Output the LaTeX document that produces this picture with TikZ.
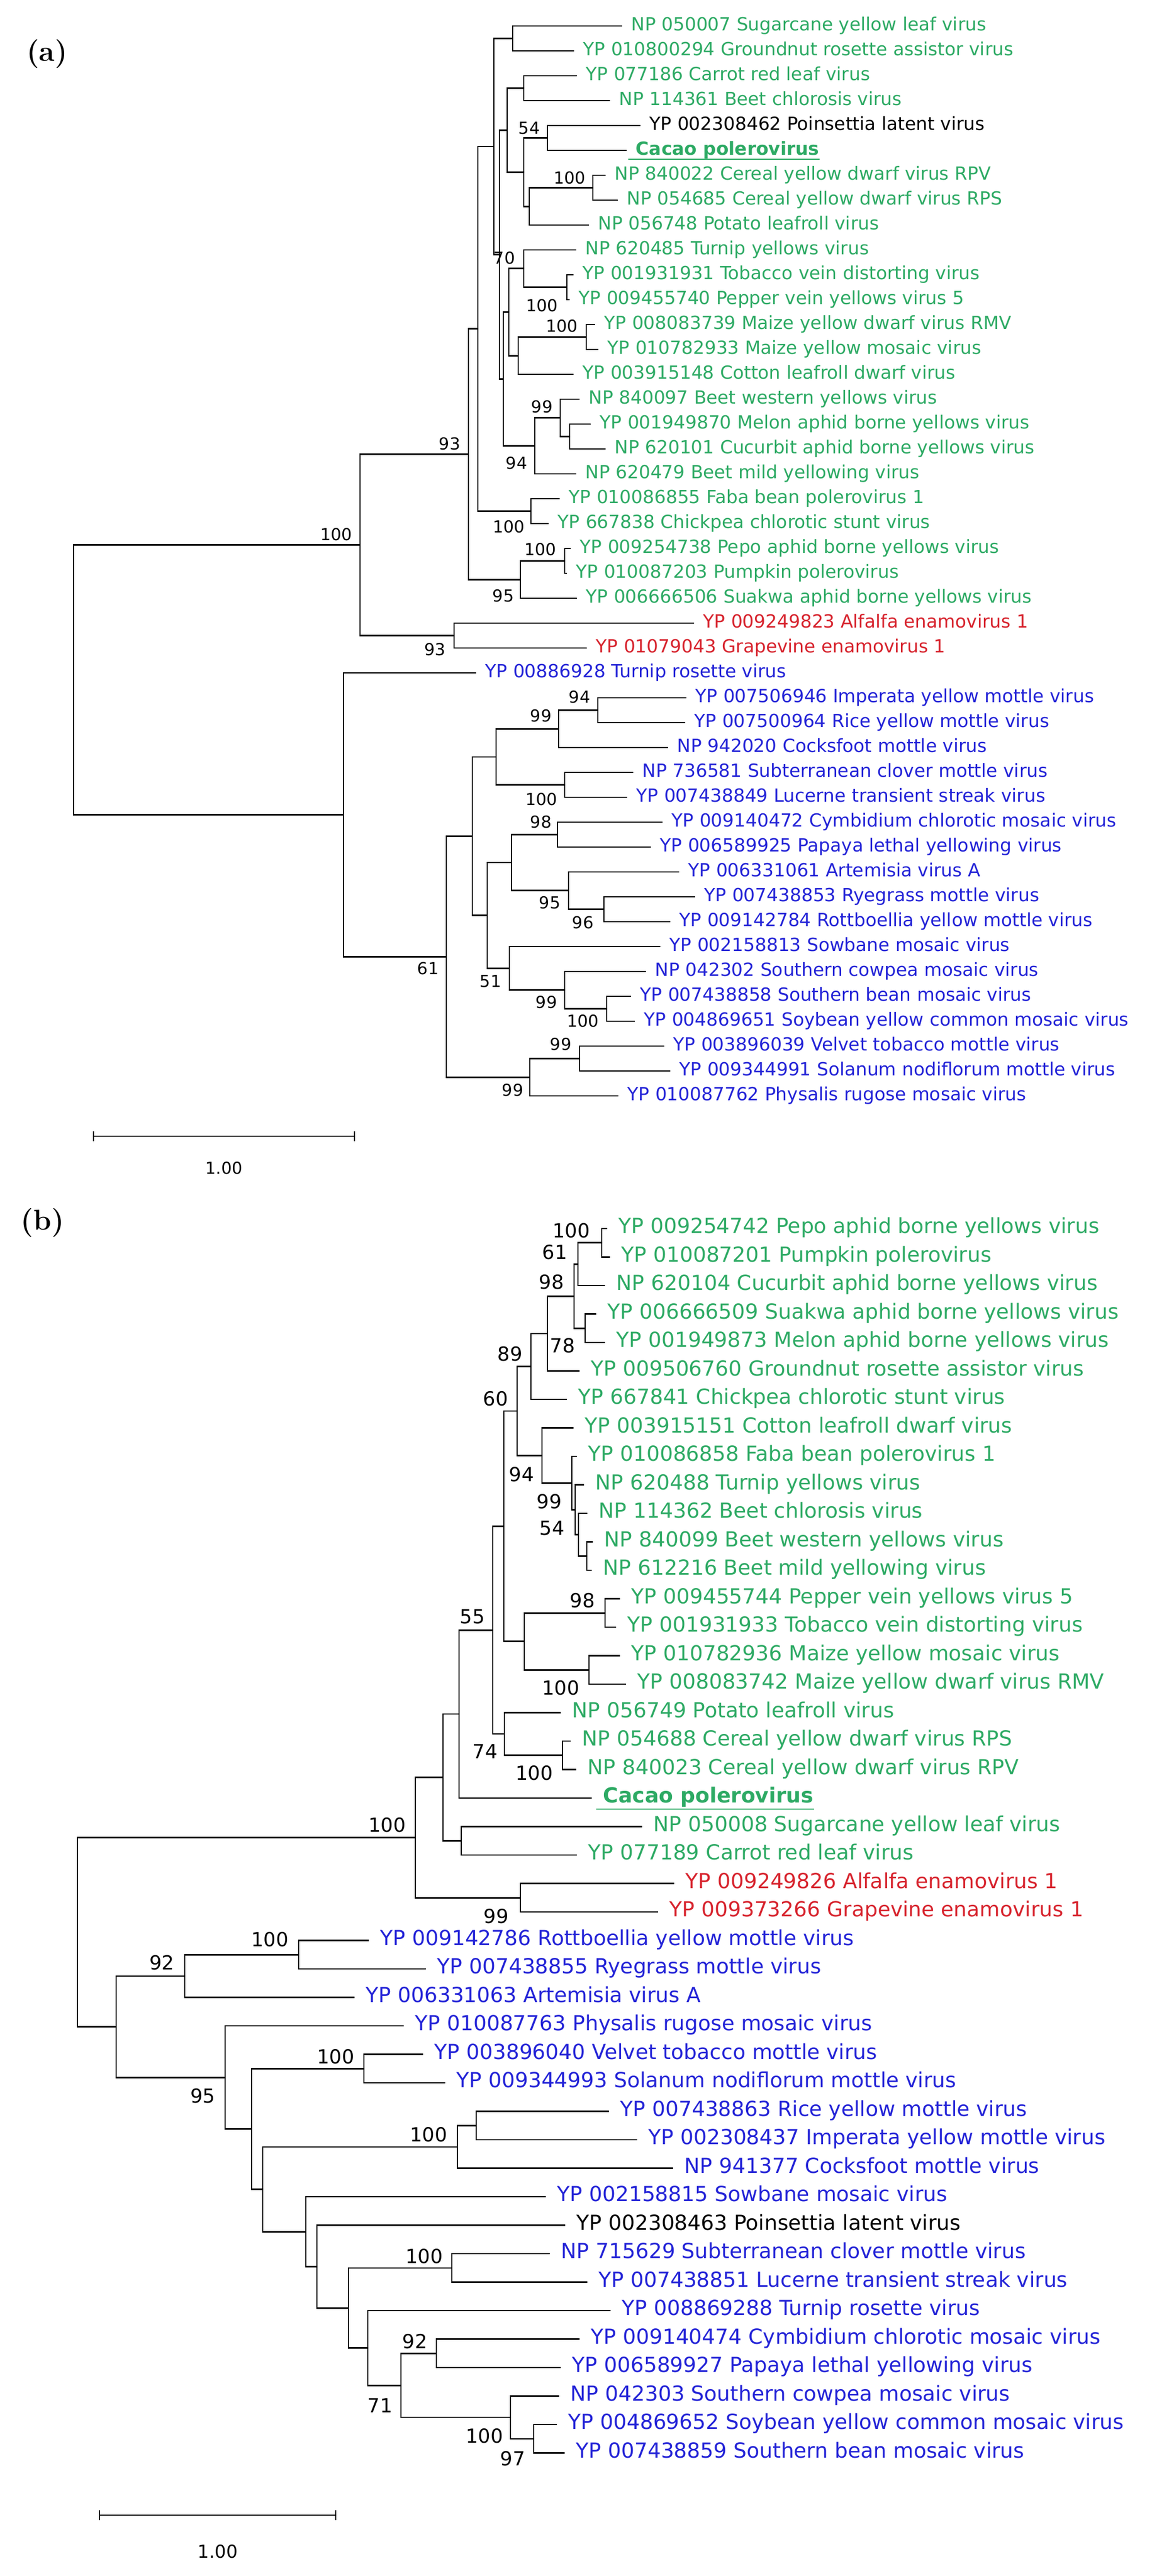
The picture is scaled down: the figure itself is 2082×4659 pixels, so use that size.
\documentclass[tikz,border=0pt]{standalone}
\usepackage{fontspec}
\newfontfamily\dvs{DejaVu Sans}
\definecolor{tgreen}{RGB}{45,170,100}
\definecolor{tblue}{RGB}{35,35,215}
\definecolor{tred}{RGB}{215,35,45}
\tikzset{
  br/.style={line width=0.65pt, black},
  lfa/.style={anchor=mid west, inner sep=0pt, font=\dvs\fontsize{8.2}{10}\selectfont},
  lfb/.style={anchor=mid west, inner sep=0pt, font=\dvs\fontsize{9.4}{11}\selectfont},
  bsa/.style={inner sep=0pt, font=\dvs\fontsize{7.5}{9}\selectfont},
  bsb/.style={inner sep=0pt, font=\dvs\fontsize{8.8}{10}\selectfont},
  ulin/.style={line width=0.6pt},
  panlab/.style={inner sep=0pt, font=\fontsize{13}{15}\selectfont},
}
\newcommand{\leafa}[5]{\coordinate (#1) at (#2,#3);\node[lfa,text=#4] (#1t) at (#2+16,#3) {#5};}
\newcommand{\leafb}[5]{\coordinate (#1) at (#2,#3);\node[lfb,text=#4] (#1t) at (#2+20,#3) {#5};}
\begin{document}
\begin{tikzpicture}[x=0.25pt,y=-0.25pt]
\fill[white] (0,0) rectangle (2082,4659);
\useasboundingbox (0,0) rectangle (2082,4659);

% ================= panel (a) =================
\node[panlab] (pa) at (85,98) {\textbf{(a)}};

\leafa{l0}{1125}{47}{tgreen}{NP 050007 Sugarcane yellow leaf virus}
\leafa{l1}{1038}{92}{tgreen}{YP 010800294 Groundnut rosette assistor virus}
\leafa{l2}{1043}{137}{tgreen}{YP 077186 Carrot red leaf virus}
\leafa{l3}{1103}{182}{tgreen}{NP 114361 Beet chlorosis virus}
\leafa{l4}{1158}{227}{black}{YP 002308462 Poinsettia latent virus}
\leafa{l5}{1133}{272}{tgreen}{\bfseries Cacao polerovirus}
\leafa{l6}{1095}{317}{tgreen}{NP 840022 Cereal yellow dwarf virus RPV}
\leafa{l7}{1117}{362}{tgreen}{NP 054685 Cereal yellow dwarf virus RPS}
\leafa{l8}{1065}{407}{tgreen}{NP 056748 Potato leafroll virus}
\leafa{l9}{1042}{452}{tgreen}{NP 620485 Turnip yellows virus}
\leafa{l10}{1037}{497}{tgreen}{YP 001931931 Tobacco vein distorting virus}
\leafa{l11}{1030}{542}{tgreen}{YP 009455740 Pepper vein yellows virus 5}
\leafa{l12}{1076}{587}{tgreen}{YP 008083739 Maize yellow dwarf virus RMV}
\leafa{l13}{1082}{632}{tgreen}{YP 010782933 Maize yellow mosaic virus}
\leafa{l14}{1037}{677}{tgreen}{YP 003915148 Cotton leafroll dwarf virus}
\leafa{l15}{1048}{722}{tgreen}{NP 840097 Beet western yellows virus}
\leafa{l16}{1068}{767}{tgreen}{YP 001949870 Melon aphid borne yellows virus}
\leafa{l17}{1095}{812}{tgreen}{NP 620101 Cucurbit aphid borne yellows virus}
\leafa{l18}{1042}{857}{tgreen}{NP 620479 Beet mild yellowing virus}
\leafa{l19}{1012}{902}{tgreen}{YP 010086855 Faba bean polerovirus 1}
\leafa{l20}{992}{947}{tgreen}{YP 667838 Chickpea chlorotic stunt virus}
\leafa{l21}{1032}{992}{tgreen}{YP 009254738 Pepo aphid borne yellows virus}
\leafa{l22}{1025}{1037}{tgreen}{YP 010087203 Pumpkin polerovirus}
\leafa{l23}{1043}{1082}{tgreen}{YP 006666506 Suakwa aphid borne yellows virus}
\leafa{l24}{1255}{1127}{tred}{YP 009249823 Alfalfa enamovirus 1}
\leafa{l25}{1061}{1172}{tred}{YP 01079043 Grapevine enamovirus 1}
\leafa{l26}{861}{1217}{tblue}{YP 00886928 Turnip rosette virus}
\leafa{l27}{1241}{1262}{tblue}{YP 007506946 Imperata yellow mottle virus}
\leafa{l28}{1239}{1307}{tblue}{YP 007500964 Rice yellow mottle virus}
\leafa{l29}{1208}{1352}{tblue}{NP 942020 Cocksfoot mottle virus}
\leafa{l30}{1145}{1397}{tblue}{NP 736581 Subterranean clover mottle virus}
\leafa{l31}{1134}{1442}{tblue}{YP 007438849 Lucerne transient streak virus}
\leafa{l32}{1198}{1487}{tblue}{YP 009140472 Cymbidium chlorotic mosaic virus}
\leafa{l33}{1177}{1532}{tblue}{YP 006589925 Papaya lethal yellowing virus}
\leafa{l34}{1228}{1577}{tblue}{YP 006331061 Artemisia virus A}
\leafa{l35}{1257}{1622}{tblue}{YP 007438853 Ryegrass mottle virus}
\leafa{l36}{1212}{1667}{tblue}{YP 009142784 Rottboellia yellow mottle virus}
\leafa{l37}{1194}{1712}{tblue}{YP 002158813 Sowbane mosaic virus}
\leafa{l38}{1168}{1757}{tblue}{NP 042302 Southern cowpea mosaic virus}
\leafa{l39}{1141}{1802}{tblue}{YP 007438858 Southern bean mosaic virus}
\leafa{l40}{1148}{1847}{tblue}{YP 004869651 Soybean yellow common mosaic virus}
\leafa{l41}{1201}{1892}{tblue}{YP 003896039 Velvet tobacco mottle virus}
\leafa{l42}{1212}{1937}{tblue}{YP 009344991 Solanum nodiflorum mottle virus}
\leafa{l43}{1118}{1982}{tblue}{YP 010087762 Physalis rugose mosaic virus}

\draw[tgreen,ulin] (1136,288) -- (1136,288 -| l5t.east);

% internal nodes (a)
\coordinate (aR) at (133,1229.6);
\coordinate (A1) at (651,985.5);
\coordinate (A2) at (847,821.5);
\coordinate (A3) at (864,594.7);
\coordinate (A4) at (893,265);
\coordinate (A5) at (903,460.4);
\coordinate (A6) at (917,235.4);
\coordinate (SG) at (927,69.5);
\coordinate (CB) at (947,159.5);
\coordinate (A7) at (947,311.4);
\coordinate (PC) at (990,249.5);
\coordinate (A8) at (957,373.25);
\coordinate (RR) at (1072,339.5);
\coordinate (A9) at (910,685.4);
\coordinate (A10) at (920,564.5);
\coordinate (T) at (947,485.75);
\coordinate (TP) at (1025,519.5);
\coordinate (A11) at (937,643.25);
\coordinate (MZ) at (1060,609.5);
\coordinate (A12) at (967,806.4);
\coordinate (A13) at (1013,755.75);
\coordinate (MC) at (1030,789.5);
\coordinate (FC) at (960,924.5);
\coordinate (PG) at (941,1048.25);
\coordinate (PP) at (1021,1014.5);
\coordinate (EN) at (821,1149.5);
\coordinate (B1) at (621,1473.6);
\coordinate (B2) at (807,1730.3);
\coordinate (B3) at (854,1512.3);
\coordinate (B4) at (897,1368.9);
\coordinate (B5) at (1010,1318.25);
\coordinate (B6) at (1081,1284.5);
\coordinate (SL) at (1021,1419.5);
\coordinate (B7) at (881,1655.75);
\coordinate (B8) at (925,1560.1);
\coordinate (CP) at (1008,1509.5);
\coordinate (B9) at (1028,1610.75);
\coordinate (RR2) at (1092,1644.5);
\coordinate (B10) at (921,1751.4);
\coordinate (B11) at (1021,1790.75);
\coordinate (SS) at (1097,1824.5);
\coordinate (VG) at (958,1948.25);
\coordinate (VS) at (1048,1914.5);

\foreach \p/\c in {aR/A1,aR/B1,A1/A2,A1/EN,A2/A3,A2/PG,A3/A4,A3/FC,A4/SG,A4/A5,
  A5/A6,A5/A9,A6/CB,A6/A7,A7/PC,A7/A8,A8/RR,A8/l8,RR/l6,RR/l7,PC/l4,PC/l5,
  CB/l2,CB/l3,SG/l0,SG/l1,A9/A10,A9/A12,A10/T,A10/A11,T/l9,T/TP,TP/l10,TP/l11,
  A11/MZ,A11/l14,MZ/l12,MZ/l13,A12/A13,A12/l18,A13/l15,A13/MC,MC/l16,MC/l17,
  FC/l19,FC/l20,PG/PP,PG/l23,PP/l21,PP/l22,EN/l24,EN/l25,
  B1/l26,B1/B2,B2/B3,B2/VG,B3/B4,B3/B7,B4/B5,B4/SL,B5/B6,B5/l29,B6/l27,B6/l28,
  SL/l30,SL/l31,B7/B8,B7/B10,B8/CP,B8/B9,CP/l32,CP/l33,B9/l34,B9/RR2,
  RR2/l35,RR2/l36,B10/l37,B10/B11,B11/l38,B11/SS,SS/l39,SS/l40,
  VG/VS,VG/l43,VS/l41,VS/l42}
  \draw[br] (\p) |- (\c);

\foreach \x/\y/\t [count=\i] in {608/967/100, 813/803/93, 957/232/54, 1030/322/100,
  912/467/70, 980/553/100, 1016/590/100, 980/736/99, 934/838/94, 920/953/100,
  977/994/100, 910/1078/95, 787/1175/93, 978/1295/99, 1048/1261/94, 979/1446/100,
  978/1487/98, 994/1633/95, 1054/1669/96, 774/1752/61, 887/1775/51, 988/1813/99,
  1054/1847/100, 1014/1889/99, 927/1972/99}
  \node[bsa] (bsa\i) at (\x,\y) {\t};

% scale bar (a)
\coordinate (sa1) at (169,2055);
\coordinate (sa2) at (641,2055);
\draw[br] (sa1) -- (sa2);
\draw[br] ([yshift=2.2pt]sa1) -- ([yshift=-2.2pt]sa1);
\draw[br] ([yshift=2.2pt]sa2) -- ([yshift=-2.2pt]sa2);
\node[bsa] (sla) at (405,2113) {1.00};

% ================= panel (b) =================
\node[panlab] (pb) at (77,2211) {\textbf{(b)}};

\leafb{m0}{1098}{2222}{tgreen}{YP 009254742 Pepo aphid borne yellows virus}
\leafb{m1}{1103}{2273.5}{tgreen}{YP 010087201 Pumpkin polerovirus}
\leafb{m2}{1094}{2325}{tgreen}{NP 620104 Cucurbit aphid borne yellows virus}
\leafb{m3}{1078}{2376.5}{tgreen}{YP 006666509 Suakwa aphid borne yellows virus}
\leafb{m4}{1094}{2428}{tgreen}{YP 001949873 Melon aphid borne yellows virus}
\leafb{m5}{1048}{2479.5}{tgreen}{YP 009506760 Groundnut rosette assistor virus}
\leafb{m6}{1025}{2531}{tgreen}{YP 667841 Chickpea chlorotic stunt virus}
\leafb{m7}{1037}{2582.5}{tgreen}{YP 003915151 Cotton leafroll dwarf virus}
\leafb{m8}{1043}{2634}{tgreen}{YP 010086858 Faba bean polerovirus 1}
\leafb{m9}{1056}{2685.5}{tgreen}{NP 620488 Turnip yellows virus}
\leafb{m10}{1062}{2737}{tgreen}{NP 114362 Beet chlorosis virus}
\leafb{m11}{1072}{2788.5}{tgreen}{NP 840099 Beet western yellows virus}
\leafb{m12}{1070}{2840}{tgreen}{NP 612216 Beet mild yellowing virus}
\leafb{m13}{1121}{2891.5}{tgreen}{YP 009455744 Pepper vein yellows virus 5}
\leafb{m14}{1114}{2943}{tgreen}{YP 001931933 Tobacco vein distorting virus}
\leafb{m15}{1121}{2994.5}{tgreen}{YP 010782936 Maize yellow mosaic virus}
\leafb{m16}{1132}{3046}{tgreen}{YP 008083742 Maize yellow dwarf virus RMV}
\leafb{m17}{1014}{3097.5}{tgreen}{NP 056749 Potato leafroll virus}
\leafb{m18}{1032}{3149}{tgreen}{NP 054688 Cereal yellow dwarf virus RPS}
\leafb{m19}{1042}{3200.5}{tgreen}{NP 840023 Cereal yellow dwarf virus RPV}
\leafb{m20}{1070}{3252}{tgreen}{\bfseries Cacao polerovirus}
\leafb{m21}{1161}{3303.5}{tgreen}{NP 050008 Sugarcane yellow leaf virus}
\leafb{m22}{1043}{3355}{tgreen}{YP 077189 Carrot red leaf virus}
\leafb{m23}{1219}{3406.5}{tred}{YP 009249826 Alfalfa enamovirus 1}
\leafb{m24}{1190}{3458}{tred}{YP 009373266 Grapevine enamovirus 1}
\leafb{m25}{667}{3509.5}{tblue}{YP 009142786 Rottboellia yellow mottle virus}
\leafb{m26}{770}{3561}{tblue}{YP 007438855 Ryegrass mottle virus}
\leafb{m27}{641}{3612.5}{tblue}{YP 006331063 Artemisia virus A}
\leafb{m28}{730}{3664}{tblue}{YP 010087763 Physalis rugose mosaic virus}
\leafb{m29}{765}{3715.5}{tblue}{YP 003896040 Velvet tobacco mottle virus}
\leafb{m30}{805}{3767}{tblue}{YP 009344993 Solanum nodiflorum mottle virus}
\leafb{m31}{1101}{3818.5}{tblue}{YP 007438863 Rice yellow mottle virus}
\leafb{m32}{1152}{3870}{tblue}{YP 002308437 Imperata yellow mottle virus}
\leafb{m33}{1217}{3921.5}{tblue}{NP 941377 Cocksfoot mottle virus}
\leafb{m34}{987}{3973}{tblue}{YP 002158815 Sowbane mosaic virus}
\leafb{m35}{1022}{4024.5}{black}{YP 002308463 Poinsettia latent virus}
\leafb{m36}{994}{4076}{tblue}{NP 715629 Subterranean clover mottle virus}
\leafb{m37}{1062}{4127.5}{tblue}{YP 007438851 Lucerne transient streak virus}
\leafb{m38}{1104}{4179}{tblue}{YP 008869288 Turnip rosette virus}
\leafb{m39}{1048}{4230.5}{tblue}{YP 009140474 Cymbidium chlorotic mosaic virus}
\leafb{m40}{1014}{4282}{tblue}{YP 006589927 Papaya lethal yellowing virus}
\leafb{m41}{1011}{4333.5}{tblue}{NP 042303 Southern cowpea mosaic virus}
\leafb{m42}{1007}{4385}{tblue}{YP 004869652 Soybean yellow common mosaic virus}
\leafb{m43}{1021}{4436.5}{tblue}{YP 007438859 Southern bean mosaic virus}

\draw[tgreen,ulin] (1078,3272) -- (1078,3272 -| m20t.east);

% internal nodes (b)
\coordinate (bR) at (140,3494.5);
\coordinate (G5) at (751,3323.5);
\coordinate (G4) at (801,3214.7);
\coordinate (G3) at (830,3100.1);
\coordinate (G2) at (891,2948.3);
\coordinate (G1) at (911,2760.4);
\coordinate (W) at (935,2552);
\coordinate (Z) at (960,2471.5);
\coordinate (Y) at (990,2411.9);
\coordinate (X) at (1038,2344.3);
\coordinate (PPC) at (1045,2286.4);
\coordinate (PPb) at (1088,2247.75);
\coordinate (SM) at (1058,2402.25);
\coordinate (N94) at (980,2632.4);
\coordinate (V) at (1034,2682.3);
\coordinate (U) at (1040,2730.6);
\coordinate (Q) at (1046,2775.6);
\coordinate (WM) at (1061,2814.25);
\coordinate (PTM) at (948,2968.75);
\coordinate (PT) at (1094,2917.25);
\coordinate (MM) at (1065,3020.25);
\coordinate (PGb) at (912,3136.1);
\coordinate (CR) at (1017,3174.75);
\coordinate (SC) at (834,3329.25);
\coordinate (ENb) at (941,3432.25);
\coordinate (H1) at (210,3665.5);
\coordinate (H2) at (334,3573.9);
\coordinate (RRb) at (540,3535.25);
\coordinate (H3) at (407,3757.2);
\coordinate (H4) at (455,3850.4);
\coordinate (VSb) at (658,3741.25);
\coordinate (H5) at (475,3959.5);
\coordinate (RIC) at (827,3882.9);
\coordinate (RI) at (861,3844.25);
\coordinate (H6) at (553,4036.2);
\coordinate (H7) at (573,4099.3);
\coordinate (H8) at (630,4174.2);
\coordinate (SLb) at (817,4101.75);
\coordinate (H9) at (665,4246.6);
\coordinate (H10) at (725,4314.2);
\coordinate (CPb) at (789,4256.25);
\coordinate (SSS) at (923,4372.1);
\coordinate (SSb) at (965,4410.75);

\foreach \p/\c in {bR/G5,bR/H1,G5/G4,G5/ENb,G4/G3,G4/SC,G3/G2,G3/m20,G2/G1,G2/PGb,
  G1/W,G1/PTM,W/Z,W/N94,Z/Y,Z/m6,Y/X,Y/m5,X/PPC,X/SM,PPC/PPb,PPC/m2,PPb/m0,PPb/m1,
  SM/m3,SM/m4,N94/m7,N94/V,V/m8,V/U,U/m9,U/Q,Q/m10,Q/WM,WM/m11,WM/m12,
  PTM/PT,PTM/MM,PT/m13,PT/m14,MM/m15,MM/m16,PGb/m17,PGb/CR,CR/m18,CR/m19,
  SC/m21,SC/m22,ENb/m23,ENb/m24,
  H1/H2,H1/H3,H2/RRb,H2/m27,RRb/m25,RRb/m26,H3/m28,H3/H4,H4/VSb,H4/H5,
  VSb/m29,VSb/m30,H5/RIC,H5/H6,RIC/RI,RIC/m33,RI/m31,RI/m32,H6/m34,H6/H7,
  H7/m35,H7/H8,H8/SLb,H8/H9,SLb/m36,SLb/m37,H9/m38,H9/H10,H10/CPb,H10/SSS,
  CPb/m39,CPb/m40,SSS/m41,SSS/SSb,SSb/m42,SSb/m43}
  \draw[br] (\p) |- (\c);

\foreach \x/\y/\t [count=\i] in {1033/2226/100, 1003/2265/61, 997/2319/98, 1017/2434/78,
  922/2449/89, 896/2530/60, 943/2667/94, 993/2716/99, 998/2764/54, 1053/2895/98,
  854/2924/55, 1014/3053/100, 877/3168/74, 966/3207/100, 700/3301/100, 897/3466/99,
  488/3508/100, 293/3550/92, 367/3791/95, 607/3720/100, 775/3861/100, 767/4081/100,
  750/4235/92, 687/4351/71, 876/4406/100, 927/4447/97}
  \node[bsb] (bsb\i) at (\x,\y) {\t};

% scale bar (b)
\coordinate (sb1) at (180,4549);
\coordinate (sb2) at (607,4549);
\draw[br] (sb1) -- (sb2);
\draw[br] ([yshift=2.2pt]sb1) -- ([yshift=-2.2pt]sb1);
\draw[br] ([yshift=2.2pt]sb2) -- ([yshift=-2.2pt]sb2);
\node[bsa] (slb) at (394,4615) {\fontsize{8.1}{9}\selectfont 1.00};
\end{tikzpicture}
\end{document}
